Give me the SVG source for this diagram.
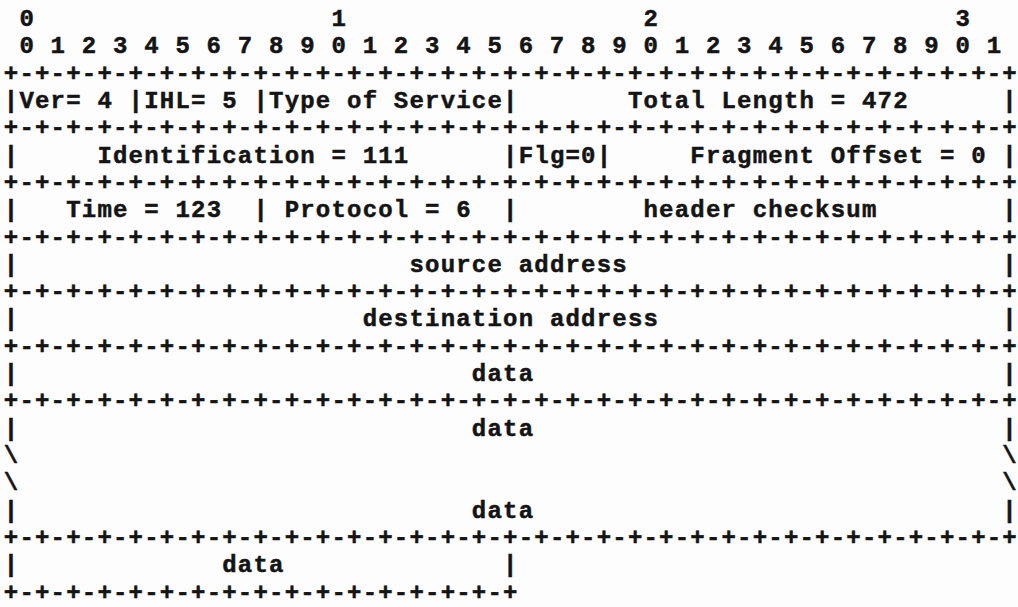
<svg xmlns="http://www.w3.org/2000/svg" width="1018" height="607" viewBox="0 0 1018 607">
  <style>
    .t { font-family: "Liberation Mono", "DejaVu Sans Mono", monospace; font-weight: bold; font-size: 24px; letter-spacing: 1.2px; fill: #141414; stroke: #141414; stroke-width: 0.5px; white-space: pre; }
    .r { font-family: "Liberation Mono", "DejaVu Sans Mono", monospace; font-weight: bold; font-size: 24px; fill: #141414; stroke: #141414; stroke-width: 0.5px; text-anchor: middle; }
  </style>
  <rect x="0" y="0" width="1018" height="607" fill="#fdfdfd"/>
  <!-- character grid: column c is centred at x = 11 + 15.6*c; row r has its baseline at y = 26 + 27.31*r.
       Columns 0..63 are set as one run per row; the closing column 64 is set on its own. -->
  <g id="bit-ruler">
    <text class="t" x="19.4" y="26">0                   1                   2                   3</text>
    <text class="t" x="19.4" y="53.3">0 1 2 3 4 5 6 7 8 9 0 1 2 3 4 5 6 7 8 9 0 1 2 3 4 5 6 7 8 9 0 1</text>
  </g>
  <g id="word-0">
    <text class="t" x="3.8" y="80.6">+-+-+-+-+-+-+-+-+-+-+-+-+-+-+-+-+-+-+-+-+-+-+-+-+-+-+-+-+-+-+-+-</text>
    <text class="r" x="1009.4" y="80.6">+</text>
    <text class="t" x="3.8" y="107.9">|Ver= 4 |IHL= 5 |Type of Service|       Total Length = 472</text>
    <text class="r" x="1009.4" y="107.9">|</text>
  </g>
  <g id="word-1">
    <text class="t" x="3.8" y="135.2">+-+-+-+-+-+-+-+-+-+-+-+-+-+-+-+-+-+-+-+-+-+-+-+-+-+-+-+-+-+-+-+-</text>
    <text class="r" x="1009.4" y="135.2">+</text>
    <text class="t" x="3.8" y="162.6">|     Identification = 111      |Flg=0|     Fragment Offset = 0</text>
    <text class="r" x="1009.4" y="162.6">|</text>
  </g>
  <g id="word-2">
    <text class="t" x="3.8" y="189.9">+-+-+-+-+-+-+-+-+-+-+-+-+-+-+-+-+-+-+-+-+-+-+-+-+-+-+-+-+-+-+-+-</text>
    <text class="r" x="1009.4" y="189.9">+</text>
    <text class="t" x="3.8" y="217.2">|   Time = 123  | Protocol = 6  |        header checksum</text>
    <text class="r" x="1009.4" y="217.2">|</text>
  </g>
  <g id="word-3">
    <text class="t" x="3.8" y="244.5">+-+-+-+-+-+-+-+-+-+-+-+-+-+-+-+-+-+-+-+-+-+-+-+-+-+-+-+-+-+-+-+-</text>
    <text class="r" x="1009.4" y="244.5">+</text>
    <text class="t" x="3.8" y="271.8">|                         source address</text>
    <text class="r" x="1009.4" y="271.8">|</text>
  </g>
  <g id="word-4">
    <text class="t" x="3.8" y="299.1">+-+-+-+-+-+-+-+-+-+-+-+-+-+-+-+-+-+-+-+-+-+-+-+-+-+-+-+-+-+-+-+-</text>
    <text class="r" x="1009.4" y="299.1">+</text>
    <text class="t" x="3.8" y="326.4">|                      destination address</text>
    <text class="r" x="1009.4" y="326.4">|</text>
  </g>
  <g id="data-0">
    <text class="t" x="3.8" y="353.7">+-+-+-+-+-+-+-+-+-+-+-+-+-+-+-+-+-+-+-+-+-+-+-+-+-+-+-+-+-+-+-+-</text>
    <text class="r" x="1009.4" y="353.7">+</text>
    <text class="t" x="3.8" y="381">|                             data</text>
    <text class="r" x="1009.4" y="381">|</text>
  </g>
  <g id="data-1">
    <text class="t" x="3.8" y="408.3">+-+-+-+-+-+-+-+-+-+-+-+-+-+-+-+-+-+-+-+-+-+-+-+-+-+-+-+-+-+-+-+-</text>
    <text class="r" x="1009.4" y="408.3">+</text>
    <text class="t" x="3.8" y="435.7">|                             data</text>
    <text class="r" x="1009.4" y="435.7">|</text>
    <text class="t" x="3.8" y="463">\</text>
    <text class="r" x="1009.4" y="463">\</text>
    <text class="t" x="3.8" y="490.3">\</text>
    <text class="r" x="1009.4" y="490.3">\</text>
    <text class="t" x="3.8" y="517.6">|                             data</text>
    <text class="r" x="1009.4" y="517.6">|</text>
  </g>
  <g id="data-tail">
    <text class="t" x="3.8" y="544.9">+-+-+-+-+-+-+-+-+-+-+-+-+-+-+-+-+-+-+-+-+-+-+-+-+-+-+-+-+-+-+-+-</text>
    <text class="r" x="1009.4" y="544.9">+</text>
    <text class="t" x="3.8" y="572.2">|             data              |</text>
    <text class="t" x="3.8" y="599.5">+-+-+-+-+-+-+-+-+-+-+-+-+-+-+-+-+</text>
  </g>
</svg>
